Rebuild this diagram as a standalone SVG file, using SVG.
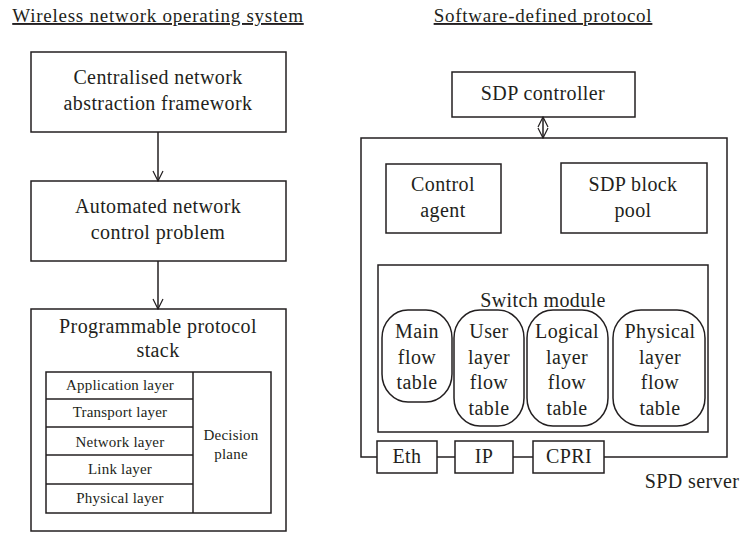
<svg xmlns="http://www.w3.org/2000/svg" width="741" height="533" viewBox="0 0 741 533" font-family="'Liberation Serif', 'DejaVu Serif', serif">
<defs>
<marker id="ah" viewBox="0 0 12 12" refX="11" refY="6" markerWidth="12" markerHeight="12" markerUnits="userSpaceOnUse" orient="auto-start-reverse">
<path d="M1,1 L11,6 L1,11" fill="none" stroke="#231f20" stroke-width="1.2"/>
</marker>
<style>
rect,path.b{fill:#fff;stroke:#231f20;stroke-width:1.5}
text{font-family:'Liberation Serif','DejaVu Serif',serif;fill:#231f20;text-anchor:middle}
.m{font-size:20px;letter-spacing:0.4px}
.s{font-size:15px;letter-spacing:0.2px}
.h{font-size:19px;letter-spacing:0.75px;text-decoration:underline}
.c line,.c path{stroke:#231f20;stroke-width:1.5;fill:none}
</style>
</defs>
<rect width="741" height="533" fill="#fff" style="stroke:none"/>
<text class="h" x="158" y="22">Wireless network operating system</text>
<text class="h" x="543" y="22">Software-defined protocol</text>

<g id="n_centralised">
<rect x="31" y="52" width="255" height="80"/>
<text class="m" x="158" y="84">Centralised network</text>
<text class="m" x="158" y="110">abstraction framework</text>
</g>
<g id="n_automated">
<rect x="31" y="181" width="255" height="80"/>
<text class="m" x="158" y="213">Automated network</text>
<text class="m" x="158" y="239">control problem</text>
</g>
<g id="n_stack">
<rect x="31" y="309" width="255" height="222"/>
<text class="m" x="158" y="333">Programmable protocol</text>
<text class="m" x="158" y="357">stack</text>
<rect x="46" y="372" width="225" height="141"/>
<line x1="193" y1="372" x2="193" y2="513" stroke="#231f20" stroke-width="1.5"/>
<line x1="46" y1="399" x2="193" y2="399" stroke="#231f20" stroke-width="1.5"/>
<line x1="46" y1="427" x2="193" y2="427" stroke="#231f20" stroke-width="1.5"/>
<line x1="46" y1="455" x2="193" y2="455" stroke="#231f20" stroke-width="1.5"/>
<line x1="46" y1="484" x2="193" y2="484" stroke="#231f20" stroke-width="1.5"/>
<text class="s" x="120" y="390">Application layer</text>
<text class="s" x="120" y="417">Transport layer</text>
<text class="s" x="120" y="447">Network layer</text>
<text class="s" x="120" y="474">Link layer</text>
<text class="s" x="120" y="503">Physical layer</text>
<text class="s" x="231" y="440">Decision</text>
<text class="s" x="231" y="459">plane</text>
</g>

<g id="n_sdp_controller">
<rect x="452" y="72" width="183" height="45"/>
<text class="m" x="543" y="100">SDP controller</text>
</g>
<g id="n_server">
<path class="b" d="M377,457 L361,457 L361,138 L727,138 L727,457 L604,457" style="fill:none"/>
<text class="m" x="692" y="488">SPD server</text>
</g>
<g id="n_control_agent">
<rect x="386" y="164" width="115" height="69"/>
<text class="m" x="443" y="191">Control</text>
<text class="m" x="443" y="217">agent</text>
</g>
<g id="n_block_pool">
<rect x="561" y="163" width="146" height="70"/>
<text class="m" x="633" y="191">SDP block</text>
<text class="m" x="633" y="217">pool</text>
</g>
<g id="n_switch">
<rect x="378" y="265" width="330" height="167"/>
<text class="m" x="543" y="307">Switch module</text>
</g>
<g id="n_main">
<rect x="382" y="310" width="70" height="92" rx="26" ry="28"/>
<text class="m" x="417" y="338">Main</text>
<text class="m" x="417" y="364">flow</text>
<text class="m" x="417" y="389">table</text>
</g>
<g id="n_user">
<rect x="454" y="310" width="70" height="116" rx="26" ry="28"/>
<text class="m" x="489" y="338">User</text>
<text class="m" x="489" y="364">layer</text>
<text class="m" x="489" y="389">flow</text>
<text class="m" x="489" y="415">table</text>
</g>
<g id="n_logical">
<rect x="527" y="310" width="81" height="116" rx="26" ry="28"/>
<text class="m" x="567" y="338">Logical</text>
<text class="m" x="567" y="364">layer</text>
<text class="m" x="567" y="389">flow</text>
<text class="m" x="567" y="415">table</text>
</g>
<g id="n_physical">
<rect x="613" y="310" width="92" height="116" rx="28" ry="28"/>
<text class="m" x="660" y="338">Physical</text>
<text class="m" x="660" y="364">layer</text>
<text class="m" x="660" y="389">flow</text>
<text class="m" x="660" y="415">table</text>
</g>
<g id="n_eth">
<rect x="377" y="441" width="60" height="32"/>
<text class="m" x="407" y="463">Eth</text>
</g>
<g id="n_ip">
<rect x="455" y="441" width="58" height="32"/>
<text class="m" x="484" y="463">IP</text>
</g>
<g id="n_cpri">
<rect x="533" y="441" width="71" height="32"/>
<text class="m" x="569" y="463">CPRI</text>
</g>

<g class="c" id="connectors">
<line x1="158" y1="132" x2="158" y2="181" marker-end="url(#ah)"/>
<line x1="158" y1="261" x2="158" y2="309" marker-end="url(#ah)"/>
<line x1="543" y1="117" x2="543" y2="138" marker-start="url(#ah)" marker-end="url(#ah)"/>
<line x1="437" y1="457" x2="455" y2="457"/>
<line x1="513" y1="457" x2="533" y2="457"/>
</g>
</svg>
